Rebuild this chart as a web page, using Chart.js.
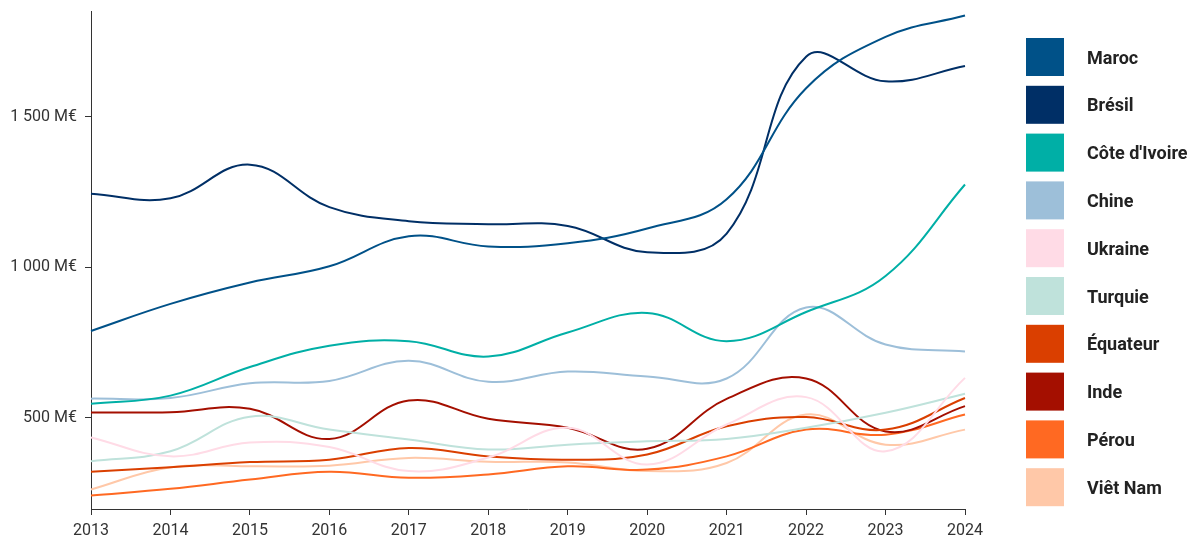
<!DOCTYPE html>
<html>
<head>
<meta charset="utf-8">
<script src="https://cdn.jsdelivr.net/npm/chart.js@4"></script>
<style>
  html, body { margin: 0; padding: 0; background: #fff; }
  #wrap { position: relative; width: 1198px; height: 540px; }
</style>
</head>
<body>
<div id="wrap"><canvas id="chart" width="1198" height="540"></canvas></div>
<script>
const years = ['2013', '2014', '2015', '2016', '2017', '2018', '2019', '2020', '2021', '2022', '2023', '2024'];
const yTicks = [500, 1000, 1500];

const maroc = [788, 878, 949, 1003, 1103, 1069, 1080, 1129, 1226, 1595, 1766, 1837];
const bresil = [1244, 1229, 1341, 1200, 1153, 1143, 1137, 1050, 1112, 1700, 1618, 1669];
const coteIvoire = [546, 573, 668, 739, 754, 703, 783, 848, 754, 851, 971, 1275];
const chine = [563, 565, 614, 622, 689, 619, 653, 637, 630, 866, 743, 720];
const ukraine = [434, 371, 417, 402, 322, 367, 466, 344, 477, 568, 388, 632];
const turquie = [355, 388, 503, 460, 427, 394, 410, 421, 429, 466, 516, 579];
const equateur = [320, 335, 352, 360, 399, 371, 360, 377, 471, 502, 460, 565];
const inde = [517, 518, 529, 429, 557, 496, 466, 396, 562, 630, 454, 538];
const perou = [241, 263, 294, 320, 300, 311, 338, 327, 371, 460, 443, 510];
const vietNam = [261, 335, 338, 340, 366, 353, 351, 322, 349, 510, 410, 460];

const series = [
  { label: 'Maroc', data: maroc, color: '#005188' },
  { label: 'Brésil', data: bresil, color: '#002f66' },
  { label: "Côte d'Ivoire", data: coteIvoire, color: '#00afa6' },
  { label: 'Chine', data: chine, color: '#9dbfd9' },
  { label: 'Ukraine', data: ukraine, color: '#ffdbe6' },
  { label: 'Turquie', data: turquie, color: '#bfe2db' },
  { label: 'Équateur', data: equateur, color: '#da3f00' },
  { label: 'Inde', data: inde, color: '#a40f00' },
  { label: 'Pérou', data: perou, color: '#ff6922' },
  { label: 'Viêt Nam', data: vietNam, color: '#ffc8a8' }
];

const fmt = (v) => String(v).replace(/\B(?=(\d{3})+(?!\d))/g, ' ') + ' M€';

// legend drawn on the canvas, on the right side
const sideLegend = {
  id: 'sideLegend',
  afterDraw(chart) {
    const ctx = chart.ctx;
    ctx.save();
    ctx.font = 'bold 18px Roboto';
    ctx.textBaseline = 'alphabetic';
    chart.data.datasets.forEach((ds, i) => {
      const top = 38 + i * 47.8;
      ctx.fillStyle = ds.borderColor;
      ctx.fillRect(1026, top, 38, 38);
      ctx.fillStyle = '#222';
      ctx.fillText(ds.label, 1087, top + 25.5);
    });
    ctx.restore();
  }
};

new Chart(document.getElementById('chart').getContext('2d'), {
  type: 'line',
  data: {
    labels: years,
    datasets: series.map((s) => ({
      label: s.label,
      data: s.data,
      borderColor: s.color,
      backgroundColor: s.color,
      borderWidth: 2,
      pointRadius: 0,
      tension: 0.4,
      fill: false
    }))
  },
  options: {
    responsive: false,
    animation: false,
    layout: { padding: { top: 11, right: 233, bottom: 0, left: 0 } },
    plugins: {
      legend: { display: false },
      tooltip: { enabled: false }
    },
    scales: {
      x: {
        offset: false,
        afterFit: (scale) => { scale.height = 31; },
        grid: { display: true, drawOnChartArea: false, drawTicks: true, tickLength: 6, color: '#333' },
        border: { display: true, color: '#333' },
        ticks: { color: '#333', font: { family: 'Roboto', size: 16 }, padding: 6, maxRotation: 0 }
      },
      y: {
        min: 196,
        max: 1852,
        afterFit: (scale) => {
          scale.width = 91;
          scale.paddingTop = 0;
          scale.paddingBottom = 0;
        },
        afterBuildTicks: (scale) => { scale.ticks = yTicks.map((v) => ({ value: v })); },
        grid: { display: true, drawOnChartArea: false, drawTicks: true, tickLength: 6, color: '#333' },
        border: { display: true, color: '#333' },
        ticks: { color: '#333', font: { family: 'Roboto', size: 16 }, padding: 8, callback: (v) => fmt(v) }
      }
    }
  },
  plugins: [sideLegend]
});
</script>
</body>
</html>
